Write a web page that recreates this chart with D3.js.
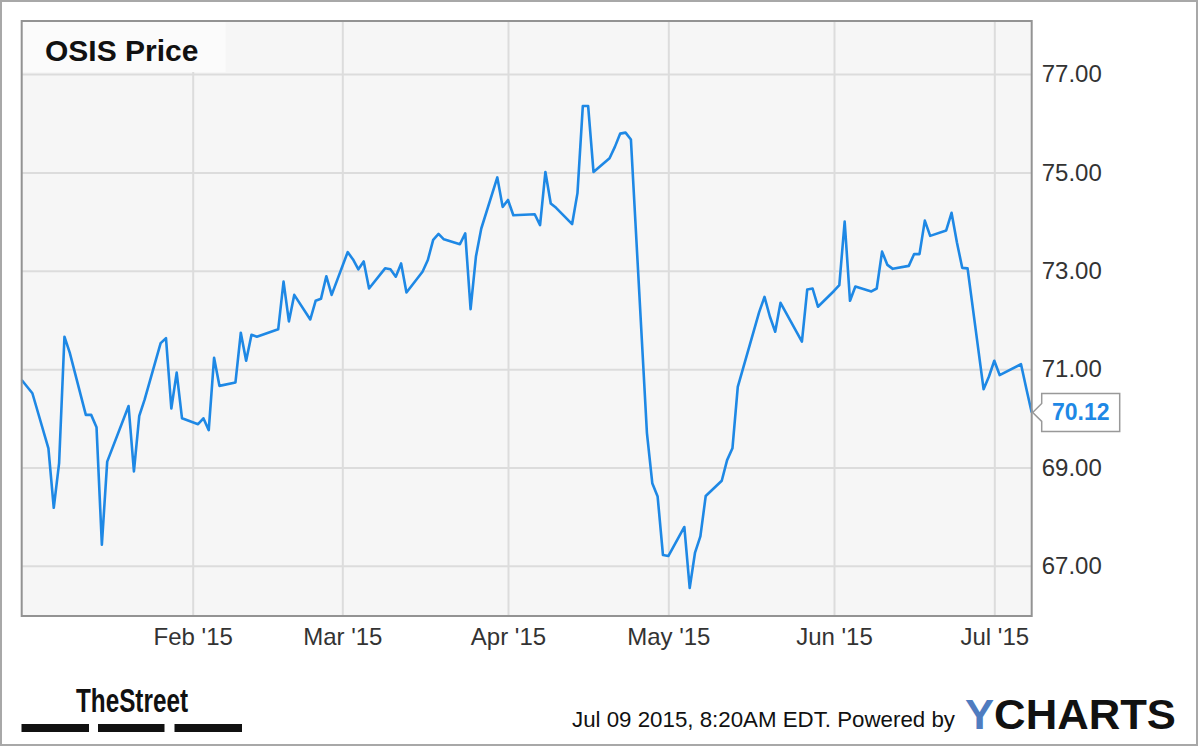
<!DOCTYPE html>
<html>
<head>
<meta charset="utf-8">
<script src="https://cdn.jsdelivr.net/npm/d3@7"></script>
<style>
  html, body { margin: 0; padding: 0; background: #fff; }
  svg { display: block; font-family: "Liberation Sans", Arial, sans-serif; }
</style>
</head>
<body>
<svg id="chart" width="1200" height="747"></svg>
<script>
const title = "OSIS Price";
const dates = [
  "2014-12-31","2015-01-02","2015-01-05","2015-01-06","2015-01-07","2015-01-08","2015-01-09",
  "2015-01-12","2015-01-13","2015-01-14","2015-01-15","2015-01-16","2015-01-20","2015-01-21",
  "2015-01-22","2015-01-23","2015-01-26","2015-01-27","2015-01-28","2015-01-29","2015-01-30",
  "2015-02-02","2015-02-03","2015-02-04","2015-02-05","2015-02-06","2015-02-09","2015-02-10",
  "2015-02-11","2015-02-12","2015-02-13","2015-02-17","2015-02-18","2015-02-19","2015-02-20",
  "2015-02-23","2015-02-24","2015-02-25","2015-02-26","2015-02-27","2015-03-02","2015-03-03",
  "2015-03-04","2015-03-05","2015-03-06","2015-03-09","2015-03-10","2015-03-11","2015-03-12",
  "2015-03-13","2015-03-16","2015-03-17","2015-03-18","2015-03-19","2015-03-20","2015-03-23",
  "2015-03-24","2015-03-25","2015-03-26","2015-03-27","2015-03-30","2015-03-31","2015-04-01",
  "2015-04-02","2015-04-06","2015-04-07","2015-04-08","2015-04-09","2015-04-10","2015-04-13",
  "2015-04-14","2015-04-15","2015-04-16","2015-04-17","2015-04-20","2015-04-21","2015-04-22",
  "2015-04-23","2015-04-24","2015-04-27","2015-04-28","2015-04-29","2015-04-30","2015-05-01",
  "2015-05-04","2015-05-05","2015-05-06","2015-05-07","2015-05-08","2015-05-11","2015-05-12",
  "2015-05-13","2015-05-14","2015-05-15","2015-05-18","2015-05-19","2015-05-20","2015-05-21",
  "2015-05-22","2015-05-26","2015-05-27","2015-05-28","2015-05-29","2015-06-01","2015-06-02",
  "2015-06-03","2015-06-04","2015-06-05","2015-06-08","2015-06-09","2015-06-10","2015-06-11",
  "2015-06-12","2015-06-15","2015-06-16","2015-06-17","2015-06-18","2015-06-19","2015-06-22",
  "2015-06-23","2015-06-24","2015-06-25","2015-06-26","2015-06-29","2015-06-30","2015-07-01",
  "2015-07-02","2015-07-06","2015-07-07","2015-07-08"
];
const prices = [
  70.78,70.51,69.39,68.18,69.09,71.66,71.33,
  70.07,70.07,69.82,67.43,69.12,70.25,68.92,
  70.05,70.38,71.53,71.63,70.20,70.93,70.00,
  69.88,70.00,69.76,71.23,70.66,70.73,71.74,
  71.17,71.70,71.66,71.81,72.78,71.97,72.51,
  72.01,72.39,72.43,72.89,72.51,73.38,73.23,
  73.03,73.19,72.64,73.05,73.03,72.88,73.15,
  72.56,72.98,73.22,73.63,73.75,73.64,73.54,
  73.76,72.22,73.29,73.86,74.90,74.30,74.44,
  74.13,74.15,73.93,75.01,74.37,74.28,73.95,
  74.58,76.35,76.35,75.01,75.29,75.52,75.79,
  75.81,75.67,69.70,68.68,68.41,67.22,67.20,
  67.79,66.55,67.27,67.60,68.42,68.73,69.15,
  69.39,70.64,71.02,72.16,72.47,72.07,71.76,
  72.35,71.56,72.62,72.64,72.27,72.59,72.71,
  74.00,72.39,72.68,72.58,72.64,73.39,73.12,
  73.04,73.10,73.34,73.34,74.02,73.71,73.82,
  74.18,73.58,73.06,73.05,70.59,70.85,71.17,
  70.88,71.10,70.60,70.12
];
const yTickValues = [67, 69, 71, 73, 75, 77];
const xTickDates = ["2015-02-01","2015-03-01","2015-04-01","2015-05-01","2015-06-01","2015-07-01"];
const domainDates = ["2014-12-31","2015-07-08"];
const yDomain = [65.98, 78.08];
const lastLabel = "70.12";
const footerText = "Jul 09 2015, 8:20AM EDT.  Powered by";
const brandLeft = "TheStreet";

const parse = d3.utcParse("%Y-%m-%d");
const data = dates.map((d, i) => ({ date: parse(d), value: prices[i] }));

const svg = d3.select("#chart");
const plot = { left: 21.7, top: 21, right: 1031.7, bottom: 616 };

const x = d3.scaleUtc().domain(domainDates.map(parse)).range([plot.left, plot.right]);
const y = d3.scaleLinear().domain(yDomain).range([plot.bottom, plot.top]);

// outer frame
svg.append("rect").attr("x", 1).attr("y", 1).attr("width", 1196).attr("height", 744)
  .attr("fill", "#fff").attr("stroke", "#a8a8a8").attr("stroke-width", 2);

// plot background
svg.append("rect").attr("x", plot.left).attr("y", plot.top)
  .attr("width", plot.right - plot.left).attr("height", plot.bottom - plot.top)
  .attr("fill", "#f6f6f6");

// grid lines via axes
const yGrid = svg.append("g").attr("transform", `translate(${plot.left},0)`)
  .call(d3.axisRight(y).tickValues(yTickValues).tickSize(plot.right - plot.left).tickFormat(""));
yGrid.select(".domain").remove();
yGrid.selectAll("line").attr("stroke", "#dcdcdc").attr("stroke-width", 2);

const xGrid = svg.append("g").attr("transform", `translate(0,${plot.top})`)
  .call(d3.axisBottom(x).tickValues(xTickDates.map(parse)).tickSize(plot.bottom - plot.top).tickFormat(""));
xGrid.select(".domain").remove();
xGrid.selectAll("line").attr("stroke", "#dcdcdc").attr("stroke-width", 2);

// title box
svg.append("rect").attr("x", plot.left + 1).attr("y", plot.top + 1).attr("width", 203).attr("height", 50)
  .attr("fill", "#fbfbfb");
svg.append("text").attr("x", 45).attr("y", 61).text(title)
  .attr("font-size", 30).attr("font-weight", "bold").attr("fill", "#111");

// line
const line = d3.line().x(d => x(d.date)).y(d => y(d.value));
svg.append("path").datum(data).attr("d", line)
  .attr("fill", "none").attr("stroke", "#1e88e5").attr("stroke-width", 2.6)
  .attr("stroke-linejoin", "round");

// plot border
svg.append("rect").attr("x", plot.left).attr("y", plot.top)
  .attr("width", plot.right - plot.left).attr("height", plot.bottom - plot.top)
  .attr("fill", "none").attr("stroke", "#939393").attr("stroke-width", 2);

// y axis labels
const yAxis = svg.append("g").attr("transform", `translate(${plot.right},0)`)
  .call(d3.axisRight(y).tickValues(yTickValues).tickSize(0).tickPadding(10).tickFormat(d3.format(".2f")));
yAxis.select(".domain").remove();
yAxis.selectAll("text").attr("font-size", 24).attr("fill", "#333")
  .attr("font-family", "Liberation Sans, Arial, sans-serif");

// x axis labels
const fmt = d => d3.utcFormat("%b '%y")(d);
const xAxis = svg.append("g").attr("transform", `translate(0,${plot.bottom})`)
  .call(d3.axisBottom(x).tickValues(xTickDates.map(parse)).tickSize(0).tickPadding(12).tickFormat(fmt));
xAxis.select(".domain").remove();
xAxis.selectAll("text").attr("font-size", 24).attr("fill", "#333")
  .attr("font-family", "Liberation Sans, Arial, sans-serif");

// last value label
const last = data[data.length - 1];
const lx = x(last.date), ly = y(last.value);
const bx = lx + 10, bw = 78, bh = 38;
svg.append("path")
  .attr("d", `M${lx + 1},${ly} L${bx},${ly - 9} L${bx},${ly - bh / 2} L${bx + bw},${ly - bh / 2} L${bx + bw},${ly + bh / 2} L${bx},${ly + bh / 2} L${bx},${ly + 9} Z`)
  .attr("fill", "#fff").attr("stroke", "#999").attr("stroke-width", 1.5);
svg.append("text").attr("x", bx + bw / 2).attr("y", ly + 8).attr("text-anchor", "middle")
  .text(lastLabel).attr("font-size", 23).attr("font-weight", "bold").attr("fill", "#1e88e5");

// footer: TheStreet
svg.append("text").attr("x", 76).attr("y", 712).text(brandLeft)
  .attr("font-family", "Liberation Sans Narrow, Liberation Sans, Arial, sans-serif")
  .attr("font-size", 34).attr("font-weight", "bold").attr("fill", "#111")
  .attr("textLength", 112).attr("lengthAdjust", "spacingAndGlyphs");
[[21.5, 89], [98, 164.5], [174.5, 242]].forEach(([a, b]) => {
  svg.append("rect").attr("x", a).attr("y", 724).attr("width", b - a).attr("height", 8).attr("fill", "#111");
});

// footer: timestamp and YCHARTS
svg.append("text").attr("x", 572).attr("y", 727).text(footerText)
  .attr("font-size", 22).attr("fill", "#111")
  .attr("textLength", 383).attr("lengthAdjust", "spacingAndGlyphs");
const yc = svg.append("text").attr("x", 965).attr("y", 729)
  .attr("font-size", 43).attr("font-weight", "bold")
  .attr("textLength", 211).attr("lengthAdjust", "spacingAndGlyphs");
yc.append("tspan").text("Y").attr("fill", "#4f7cc0");
yc.append("tspan").text("CHARTS").attr("fill", "#111");
</script>
</body>
</html>
